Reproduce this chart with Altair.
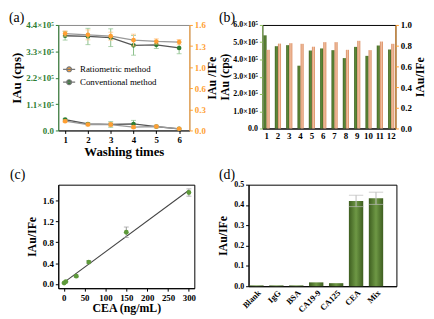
import altair as alt
import pandas as pd

# ---------- data ----------
# (a) washing test
washes = [1, 2, 3, 4, 5, 6]
conv_high = [3.95e5, 3.92e5, 3.87e5, 3.55e5, 3.57e5, 3.44e5]
conv_high_err = [0.18e5, 0.34e5, 0.37e5, 0.41e5, 0.15e5, 0.24e5]
conv_low = [0.45e5, 0.27e5, 0.25e5, 0.27e5, 0.16e5, 0.07e5]
conv_low_err = [0.05e5, 0.05e5, 0.12e5, 0.15e5, 0.05e5, 0.03e5]
ratio_high = [1.47, 1.45, 1.43, 1.37, 1.35, 1.34]
ratio_high_err = [0.04, 0.075, 0.06, 0.09, 0.04, 0.04]
ratio_low = [0.14, 0.09, 0.09, 0.05, 0.06, 0.025]
ratio_low_err = [0.02, 0.02, 0.03, 0.02, 0.02, 0.01]
methods = ["Ratiometric method", "Conventional method"]

# (b) reproducibility
b_ids = list(range(1, 13))
b_au = [5.40e5, 4.77e5, 4.83e5, 3.64e5, 4.52e5, 4.64e5, 4.54e5, 4.08e5, 4.73e5, 4.21e5, 4.81e5, 4.58e5]
b_ratio = [0.76, 0.82, 0.824, 0.818, 0.79, 0.834, 0.834, 0.76, 0.847, 0.757, 0.84, 0.818]

# (c) calibration
cea = [1, 5, 30, 60, 150, 300]
c_ratio = [0.02, 0.045, 0.15, 0.42, 0.99, 1.75]
c_err = [0.01, 0.01, 0.02, 0.03, 0.10, 0.07]

# (d) selectivity
d_cats = ["Blank", "IgG", "BSA", "CA19-9", "CA125", "CEA", "Mix"]
d_vals = [0.004, 0.004, 0.004, 0.019, 0.015, 0.42, 0.433]
d_err = [0.0, 0.0, 0.0, 0.0, 0.0, 0.028, 0.03]

GREEN = "#2e7d32"
ORANGE = "#ff9f33"
FONT = "Liberation Serif"

def panel_label(txt, x, y):
    return alt.Chart(pd.DataFrame({"t": [txt]})).mark_text(
        font=FONT, fontSize=14, align="left", baseline="middle"
    ).encode(text="t:N", x=alt.value(x), y=alt.value(y))

# ---------- (a) ----------
conv_df = pd.DataFrame({
    "wash": washes * 2,
    "value": conv_high + conv_low,
    "err": conv_high_err + conv_low_err,
    "level": ["high"] * 6 + ["low"] * 6,
    "method": [methods[1]] * 12,
})
ratio_df = pd.DataFrame({
    "wash": washes * 2,
    "value": ratio_high + ratio_low,
    "err": ratio_high_err + ratio_low_err,
    "level": ["high"] * 6 + ["low"] * 6,
    "method": [methods[0]] * 12,
})

xa = alt.X("wash:Q", scale=alt.Scale(domain=[0.7, 6.45], nice=False),
           axis=alt.Axis(values=washes, format="d", title="Washing times", titleFontSize=13,
                         titlePadding=1))

def ya(field):
    return alt.Y(field, scale=alt.Scale(domain=[0, 4.4e5], nice=False),
                 axis=alt.Axis(values=[0, 1.1e5, 2.2e5, 3.3e5, 4.4e5],
                               labelExpr="datum.value == 0 ? '0.0' : format(datum.value/1e5, '.1f') + '×10⁵'",
                               title="IAu (cps)", titleFontSize=13, domainColor=GREEN, tickColor=GREEN,
                               labelColor=GREEN, titlePadding=2))

def yr(field):
    return alt.Y(field, scale=alt.Scale(domain=[0, 1.6], nice=False),
                 axis=alt.Axis(values=[0, 0.32, 0.64, 0.96, 1.28, 1.6], format=".1f",
                               orient="right", title="IAu /IFe", titleAngle=270, titleBaseline="top",
                               domainColor=ORANGE, tickColor=ORANGE, labelColor=ORANGE,
                               titlePadding=1))

legend_a = alt.Legend(title=None, orient="none", legendX=4, legendY=38,
                      symbolType="M-1,0H1M0.4,0A0.4,0.4,0,1,1,-0.4,0A0.4,0.4,0,1,1,0.4,0Z",
                      symbolSize=150, symbolStrokeColor="#777", symbolStrokeWidth=1.2,
                      labelFont=FONT, labelFontSize=9, labelFontWeight="normal",
                      rowPadding=1, symbolOffset=0)
fill_a = alt.Fill("method:N", scale=alt.Scale(domain=methods, range=[ORANGE, GREEN]), legend=legend_a)

cb = alt.Chart(conv_df).transform_calculate(lo="datum.value - datum.err", hi="datum.value + datum.err")
green_layer = alt.layer(
    cb.mark_line(color="#555", strokeWidth=1.3).encode(x=xa, y=ya("value:Q"), detail="level:N"),
    cb.mark_errorbar(ticks=True, color="#8cc08c").encode(x=xa, y=ya("lo:Q"), y2="hi:Q"),
    cb.mark_point(filled=True, size=22, opacity=1).encode(x=xa, y=ya("value:Q"), fill=fill_a),
)
rb = alt.Chart(ratio_df).transform_calculate(lo="datum.value - datum.err", hi="datum.value + datum.err")
orange_layer = alt.layer(
    rb.mark_line(color="#999", strokeWidth=1.3).encode(x=xa, y=yr("value:Q"), detail="level:N"),
    rb.mark_errorbar(ticks=True, color="#ffc27f").encode(x=xa, y=yr("lo:Q"), y2="hi:Q"),
    rb.mark_point(filled=True, size=22, opacity=1).encode(x=xa, y=yr("value:Q"), fill=fill_a),
)
chart_a = alt.layer(green_layer, orange_layer, panel_label("(a)", -50, -7)).resolve_scale(
    y="independent").properties(width=133, height=107, view=alt.ViewBackground(stroke="#888"))

# ---------- (b) ----------
b_df1 = pd.DataFrame({"id": b_ids, "value": b_au, "series": "Au"})
b_df2 = pd.DataFrame({"id": b_ids, "value": b_ratio, "series": "ratio"})
xb = alt.X("id:O", scale=alt.Scale(paddingInner=0.45, paddingOuter=0.1),
           axis=alt.Axis(labelAngle=0, title=None, ticks=False, labelPadding=3))
xob = alt.XOffset("series:N", scale=alt.Scale(domain=["Au", "ratio"], paddingInner=0))
grad_green = alt.Gradient(gradient="linear", x1=0, x2=1, y1=0, y2=0,
                          stops=[alt.GradientStop(color="#3f6222", offset=0),
                                 alt.GradientStop(color="#5f8a38", offset=0.5),
                                 alt.GradientStop(color="#3f6222", offset=1)])
grad_orange = alt.Gradient(gradient="linear", x1=0, x2=1, y1=0, y2=0,
                           stops=[alt.GradientStop(color="#d98a5e", offset=0),
                                  alt.GradientStop(color="#f0bfa0", offset=0.5),
                                  alt.GradientStop(color="#d98a5e", offset=1)])
bars_b1 = alt.Chart(b_df1).mark_bar(color=grad_green).encode(
    x=xb, xOffset=xob,
    y=alt.Y("value:Q", scale=alt.Scale(domain=[0, 6e5], nice=False),
            axis=alt.Axis(values=[0, 1e5, 2e5, 3e5, 4e5, 5e5, 6e5],
                          labelExpr="datum.value == 0 ? '0.0' : format(datum.value/1e5, '.1f') + '×10⁵'",
                          labelFontSize=8, title="IAu (cps)", domainColor="#8cbf5a",
                          tickColor="#8cbf5a", titlePadding=1)))
bars_b2 = alt.Chart(b_df2).mark_bar(color=grad_orange).encode(
    x=xb, xOffset=xob,
    y=alt.Y("value:Q", scale=alt.Scale(domain=[0, 1.0], nice=False),
            axis=alt.Axis(values=[0, 0.2, 0.4, 0.6, 0.8, 1.0], format=".1f", orient="right",
                          title="IAu/IFe", titleAngle=270, titleBaseline="top",
                          domainColor=ORANGE, tickColor=ORANGE, titlePadding=3)))
chart_b = alt.layer(bars_b1, bars_b2, panel_label("(b)", -44, -7)).resolve_scale(
    y="independent").properties(width=135, height=105)

# ---------- (c) ----------
c_df = pd.DataFrame({"cea": cea, "ratio": c_ratio, "err": c_err})
xc = alt.X("cea:Q", scale=alt.Scale(domain=[-13, 313], nice=False),
           axis=alt.Axis(values=[0, 50, 100, 150, 200, 250, 300], title="CEA (ng/mL)", titlePadding=1))

def yc(field):
    return alt.Y(field, scale=alt.Scale(domain=[-0.08, 1.9], nice=False),
                 axis=alt.Axis(values=[0, 0.4, 0.8, 1.2, 1.6], format=".1f", title="IAu/IFe"))

cbase = alt.Chart(c_df).transform_calculate(lo="datum.ratio - datum.err", hi="datum.ratio + datum.err")
chart_c = alt.layer(
    alt.Chart(c_df).transform_regression("cea", "ratio", extent=[0, 300]).mark_line(
        color="#444", strokeWidth=1.1).encode(x=xc, y=yc("ratio:Q")),
    cbase.mark_errorbar(ticks=True, color="#999").encode(x=xc, y=yc("lo:Q"), y2="hi:Q"),
    alt.Chart(c_df).mark_point(filled=True, size=24, opacity=1, color="#5e9a3a").encode(
        x=xc, y=yc("ratio:Q")),
    panel_label("(c)", -49, -10),
).properties(width=138, height=105)

# ---------- (d) ----------
d_df = pd.DataFrame({"cat": d_cats, "val": d_vals, "err": d_err})
xd = alt.X("cat:N", sort=d_cats, scale=alt.Scale(paddingInner=0.28, paddingOuter=0.35, align=0.05),
           axis=alt.Axis(labelAngle=-45, title=None, ticks=False, labelFontSize=8.5))

def yd(field):
    return alt.Y(field, scale=alt.Scale(domain=[0, 0.5], nice=False),
                 axis=alt.Axis(values=[0, 0.1, 0.2, 0.3, 0.4, 0.5], format=".1f", title="IAu/IFe",
                               labelFontSize=8))

grad_d = alt.Gradient(gradient="linear", x1=0, x2=1, y1=0, y2=0,
                      stops=[alt.GradientStop(color="#3e5e20", offset=0),
                             alt.GradientStop(color="#6e9845", offset=0.5),
                             alt.GradientStop(color="#3e5e20", offset=1)])
dbase = alt.Chart(d_df).transform_filter("datum.err > 0").transform_calculate(
    lo="datum.val - datum.err", hi="datum.val + datum.err")
chart_d = alt.layer(
    alt.Chart(d_df).mark_bar(color=grad_d).encode(x=xd, y=yd("val:Q")),
    dbase.mark_errorbar(ticks=True, color="#bbb").encode(x=xd, y=yd("lo:Q"), y2="hi:Q"),
    panel_label("(d)", -30, -10),
).properties(width=150, height=103)

# ---------- assemble ----------
row1 = alt.hconcat(chart_a, chart_b, spacing=74, bounds="flush")
row2 = alt.hconcat(chart_c, chart_d, spacing=55, bounds="flush")
chart = alt.vconcat(row1, row2, spacing=8).properties(padding=0).configure_axis(
    labelFont=FONT, labelFontWeight="bold", labelFontSize=9, titleFont=FONT, titleFontWeight="bold",
    titleFontSize=12, grid=False, tickSize=3, domainColor="black", tickColor="black",
    labelColor="black", titleColor="black", labelPadding=2
).configure_view(stroke="black")

chart.save("out.html", embed_options={"renderer": "svg", "actions": False})
